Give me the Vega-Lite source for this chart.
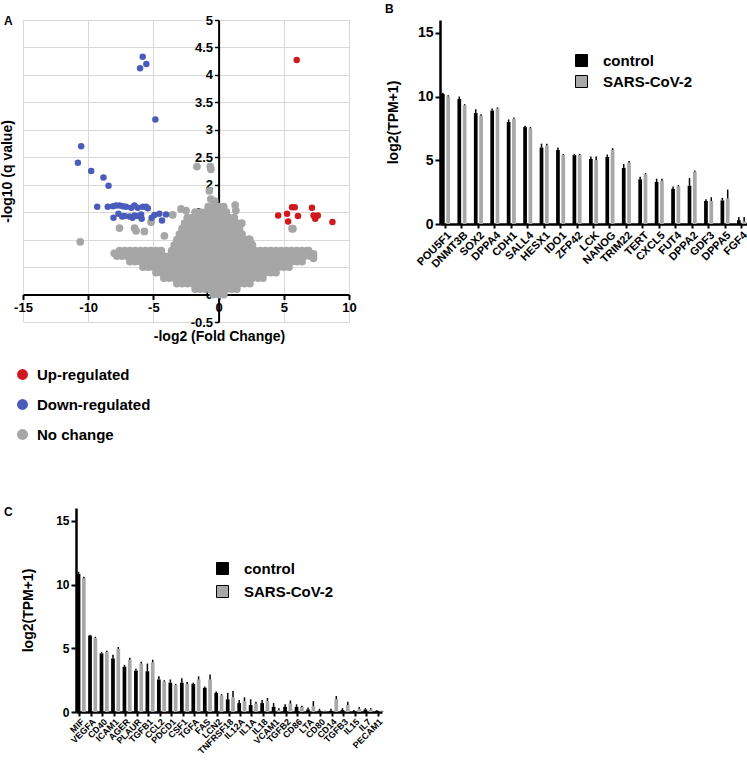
{
"$schema": "https://vega.github.io/schema/vega-lite/v6.json",
"padding": {"left": 0, "top": 3, "right": 0, "bottom": 0},
"background": "white",
"config": {
  "font": "Liberation Sans",
  "view": {"stroke": null},
  "axis": {"labelFontWeight": "bold", "titleFontWeight": "bold", "labelColor": "black", "titleColor": "black", "domainColor": "black", "tickColor": "black"},
  "title": {"fontWeight": "bold", "fontSize": 12, "anchor": "start", "frame": "group", "color": "black"},
  "legend": {"labelFontWeight": "bold", "labelColor": "black"}
},
"datasets": {
  "gray": [
    {"x":-0.4,"y":0},{"x":0,"y":0},{"x":0.4,"y":0},
    {"x":-1.8,"y":0.1},{"x":-1.4,"y":0.1},{"x":-1.0,"y":0.1},{"x":-0.6,"y":0.1},{"x":-0.2,"y":0.1},{"x":0.2,"y":0.1},{"x":0.6,"y":0.1},{"x":1.0,"y":0.1},{"x":1.4,"y":0.1},
    {"x":-3.2,"y":0.2},{"x":-2.8,"y":0.2},{"x":-2.4,"y":0.2},{"x":-2.0,"y":0.2},{"x":-1.6,"y":0.2},{"x":-1.2,"y":0.2},{"x":-0.8,"y":0.2},{"x":-0.4,"y":0.2},{"x":0,"y":0.2},{"x":0.4,"y":0.2},{"x":0.8,"y":0.2},{"x":1.2,"y":0.2},{"x":1.6,"y":0.2},{"x":2.0,"y":0.2},{"x":2.4,"y":0.2},
    {"x":-4.2,"y":0.3},{"x":-3.8,"y":0.3},{"x":-3.4,"y":0.3},{"x":-3.0,"y":0.3},{"x":-2.6,"y":0.3},{"x":-2.2,"y":0.3},{"x":-1.8,"y":0.3},{"x":-1.4,"y":0.3},{"x":-1.0,"y":0.3},{"x":-0.6,"y":0.3},{"x":-0.2,"y":0.3},{"x":0.2,"y":0.3},{"x":0.6,"y":0.3},{"x":1.0,"y":0.3},{"x":1.4,"y":0.3},{"x":1.8,"y":0.3},{"x":2.2,"y":0.3},{"x":2.6,"y":0.3},{"x":3.0,"y":0.3},{"x":3.4,"y":0.3},
    {"x":-4.8,"y":0.4},{"x":-4.4,"y":0.4},{"x":-4.0,"y":0.4},{"x":-3.6,"y":0.4},{"x":-3.2,"y":0.4},{"x":-2.8,"y":0.4},{"x":-2.4,"y":0.4},{"x":-2.0,"y":0.4},{"x":-1.6,"y":0.4},{"x":-1.2,"y":0.4},{"x":-0.8,"y":0.4},{"x":-0.4,"y":0.4},{"x":0,"y":0.4},{"x":0.4,"y":0.4},{"x":0.8,"y":0.4},{"x":1.2,"y":0.4},{"x":1.6,"y":0.4},{"x":2.0,"y":0.4},{"x":2.4,"y":0.4},{"x":2.8,"y":0.4},{"x":3.2,"y":0.4},{"x":3.6,"y":0.4},{"x":4.0,"y":0.4},{"x":4.4,"y":0.4},
    {"x":-5.8,"y":0.5},{"x":-5.4,"y":0.5},{"x":-5.0,"y":0.5},{"x":-4.6,"y":0.5},{"x":-4.2,"y":0.5},{"x":-3.8,"y":0.5},{"x":-3.4,"y":0.5},{"x":-3.0,"y":0.5},{"x":-2.6,"y":0.5},{"x":-2.2,"y":0.5},{"x":-1.8,"y":0.5},{"x":-1.4,"y":0.5},{"x":-1.0,"y":0.5},{"x":-0.6,"y":0.5},{"x":-0.2,"y":0.5},{"x":0.2,"y":0.5},{"x":0.6,"y":0.5},{"x":1.0,"y":0.5},{"x":1.4,"y":0.5},{"x":1.8,"y":0.5},{"x":2.2,"y":0.5},{"x":2.6,"y":0.5},{"x":3.0,"y":0.5},{"x":3.4,"y":0.5},{"x":3.8,"y":0.5},{"x":4.2,"y":0.5},{"x":4.6,"y":0.5},{"x":5.0,"y":0.5},{"x":5.4,"y":0.5},
    {"x":-6.8,"y":0.6},{"x":-6.4,"y":0.6},{"x":-6.0,"y":0.6},{"x":-5.6,"y":0.6},{"x":-5.2,"y":0.6},{"x":-4.8,"y":0.6},{"x":-4.4,"y":0.6},{"x":-4.0,"y":0.6},{"x":-3.6,"y":0.6},{"x":-3.2,"y":0.6},{"x":-2.8,"y":0.6},{"x":-2.4,"y":0.6},{"x":-2.0,"y":0.6},{"x":-1.6,"y":0.6},{"x":-1.2,"y":0.6},{"x":-0.8,"y":0.6},{"x":-0.4,"y":0.6},{"x":0,"y":0.6},{"x":0.4,"y":0.6},{"x":0.8,"y":0.6},{"x":1.2,"y":0.6},{"x":1.6,"y":0.6},{"x":2.0,"y":0.6},{"x":2.4,"y":0.6},{"x":2.8,"y":0.6},{"x":3.2,"y":0.6},{"x":3.6,"y":0.6},{"x":4.0,"y":0.6},{"x":4.4,"y":0.6},{"x":4.8,"y":0.6},{"x":5.2,"y":0.6},{"x":5.6,"y":0.6},{"x":6.0,"y":0.6},{"x":6.4,"y":0.6},
    {"x":-7.8,"y":0.7},{"x":-7.4,"y":0.7},{"x":-7.0,"y":0.7},{"x":-6.6,"y":0.7},{"x":-6.2,"y":0.7},{"x":-5.8,"y":0.7},{"x":-5.4,"y":0.7},{"x":-5.0,"y":0.7},{"x":-4.6,"y":0.7},{"x":-4.2,"y":0.7},{"x":-3.8,"y":0.7},{"x":-3.4,"y":0.7},{"x":-3.0,"y":0.7},{"x":-2.6,"y":0.7},{"x":-2.2,"y":0.7},{"x":-1.8,"y":0.7},{"x":-1.4,"y":0.7},{"x":-1.0,"y":0.7},{"x":-0.6,"y":0.7},{"x":-0.2,"y":0.7},{"x":0.2,"y":0.7},{"x":0.6,"y":0.7},{"x":1.0,"y":0.7},{"x":1.4,"y":0.7},{"x":1.8,"y":0.7},{"x":2.2,"y":0.7},{"x":2.6,"y":0.7},{"x":3.0,"y":0.7},{"x":3.4,"y":0.7},{"x":3.8,"y":0.7},{"x":4.2,"y":0.7},{"x":4.6,"y":0.7},{"x":5.0,"y":0.7},{"x":5.4,"y":0.7},{"x":5.8,"y":0.7},{"x":6.2,"y":0.7},{"x":6.6,"y":0.7},{"x":7.0,"y":0.7},
    {"x":-7.6,"y":0.8},{"x":-7.2,"y":0.8},{"x":-6.8,"y":0.8},{"x":-6.4,"y":0.8},{"x":-6.0,"y":0.8},{"x":-5.6,"y":0.8},{"x":-5.2,"y":0.8},{"x":-4.8,"y":0.8},{"x":-4.4,"y":0.8},{"x":-3.6,"y":0.8},{"x":-3.2,"y":0.8},{"x":-2.8,"y":0.8},{"x":-2.4,"y":0.8},{"x":-2.0,"y":0.8},{"x":-1.6,"y":0.8},{"x":-1.2,"y":0.8},{"x":-0.8,"y":0.8},{"x":-0.4,"y":0.8},{"x":0,"y":0.8},{"x":0.4,"y":0.8},{"x":0.8,"y":0.8},{"x":1.2,"y":0.8},{"x":1.6,"y":0.8},{"x":2.0,"y":0.8},{"x":2.4,"y":0.8},{"x":2.8,"y":0.8},{"x":3.2,"y":0.8},{"x":3.6,"y":0.8},{"x":4.0,"y":0.8},{"x":4.4,"y":0.8},{"x":4.8,"y":0.8},{"x":5.2,"y":0.8},{"x":5.6,"y":0.8},{"x":6.0,"y":0.8},{"x":6.4,"y":0.8},{"x":6.8,"y":0.8},
    {"x":-3.4,"y":0.9},{"x":-3.0,"y":0.9},{"x":-2.6,"y":0.9},{"x":-2.2,"y":0.9},{"x":-1.8,"y":0.9},{"x":-1.4,"y":0.9},{"x":-1.0,"y":0.9},{"x":-0.6,"y":0.9},{"x":-0.2,"y":0.9},{"x":0.2,"y":0.9},{"x":0.6,"y":0.9},{"x":1.0,"y":0.9},{"x":1.4,"y":0.9},{"x":1.8,"y":0.9},{"x":2.2,"y":0.9},{"x":2.6,"y":0.9},
    {"x":-3.2,"y":1.0},{"x":-2.8,"y":1.0},{"x":-2.4,"y":1.0},{"x":-2.0,"y":1.0},{"x":-1.6,"y":1.0},{"x":-1.2,"y":1.0},{"x":-0.8,"y":1.0},{"x":-0.4,"y":1.0},{"x":0,"y":1.0},{"x":0.4,"y":1.0},{"x":0.8,"y":1.0},{"x":1.2,"y":1.0},{"x":1.6,"y":1.0},{"x":2.0,"y":1.0},{"x":2.4,"y":1.0},
    {"x":-3.0,"y":1.1},{"x":-2.6,"y":1.1},{"x":-2.2,"y":1.1},{"x":-1.8,"y":1.1},{"x":-1.4,"y":1.1},{"x":-1.0,"y":1.1},{"x":-0.6,"y":1.1},{"x":-0.2,"y":1.1},{"x":0.2,"y":1.1},{"x":0.6,"y":1.1},{"x":1.0,"y":1.1},{"x":1.4,"y":1.1},{"x":1.8,"y":1.1},
    {"x":-2.8,"y":1.2},{"x":-2.4,"y":1.2},{"x":-2.0,"y":1.2},{"x":-1.6,"y":1.2},{"x":-1.2,"y":1.2},{"x":-0.8,"y":1.2},{"x":-0.4,"y":1.2},{"x":0,"y":1.2},{"x":0.4,"y":1.2},{"x":0.8,"y":1.2},{"x":1.2,"y":1.2},{"x":1.6,"y":1.2},
    {"x":-2.6,"y":1.3},{"x":-2.2,"y":1.3},{"x":-1.8,"y":1.3},{"x":-1.4,"y":1.3},{"x":-1.0,"y":1.3},{"x":-0.6,"y":1.3},{"x":-0.2,"y":1.3},{"x":0.2,"y":1.3},{"x":0.6,"y":1.3},{"x":1.0,"y":1.3},{"x":1.4,"y":1.3},
    {"x":-2.4,"y":1.4},{"x":-2.0,"y":1.4},{"x":-1.6,"y":1.4},{"x":-1.2,"y":1.4},{"x":-0.8,"y":1.4},{"x":-0.4,"y":1.4},{"x":0,"y":1.4},{"x":0.4,"y":1.4},{"x":0.8,"y":1.4},{"x":1.2,"y":1.4},
    {"x":-1.8,"y":1.5},{"x":-1.4,"y":1.5},{"x":-1.0,"y":1.5},{"x":-0.6,"y":1.5},{"x":-0.2,"y":1.5},{"x":0.2,"y":1.5},{"x":0.6,"y":1.5},
    {"x":-0.8,"y":1.6},{"x":-0.4,"y":1.6},{"x":0,"y":1.6},{"x":0.4,"y":1.6},
    {"x":-0.3,"y":1.7},
    {"x":-10.61,"y":0.96},{"x":-7.6,"y":1.21},{"x":-6.45,"y":1.21},{"x":-6.33,"y":1.16},{"x":-5.69,"y":1.15},{"x":-5.18,"y":1.32},{"x":-4.16,"y":1.07},{"x":-3.52,"y":1.45},{"x":-2.88,"y":1.56},{"x":-2.5,"y":1.53},{"x":-1.66,"y":2.33},{"x":-0.64,"y":2.33},{"x":-0.59,"y":2.28},{"x":-0.71,"y":1.89},{"x":-0.6,"y":1.74},{"x":1.27,"y":1.63},{"x":1.32,"y":1.53},{"x":1.78,"y":1.3},{"x":2.34,"y":1.01},{"x":2.54,"y":0.92},{"x":5.63,"y":1.2},{"x":5.7,"y":1.2},{"x":7.28,"y":0.74},{"x":7.28,"y":0.66},{"x":6.9,"y":0.8},{"x":-8.0,"y":0.75}
  ],
  "blue": [
    {"x":-5.82,"y":4.33},{"x":-5.54,"y":4.2},{"x":-6.02,"y":4.12},{"x":-4.85,"y":3.19},{"x":-10.54,"y":2.7},{"x":-10.79,"y":2.4},{"x":-9.77,"y":2.25},{"x":-8.83,"y":2.13},{"x":-8.44,"y":1.98},{"x":-9.31,"y":1.6},
    {"x":-8.5,"y":1.6},{"x":-8.1,"y":1.61},{"x":-7.86,"y":1.62},{"x":-7.6,"y":1.62},{"x":-7.35,"y":1.61},{"x":-7.1,"y":1.6},{"x":-6.7,"y":1.58},{"x":-6.45,"y":1.62},{"x":-6.2,"y":1.58},{"x":-5.8,"y":1.6},{"x":-5.56,"y":1.6},{"x":-5.43,"y":1.57},
    {"x":-8.06,"y":1.4},{"x":-7.68,"y":1.47},{"x":-7.4,"y":1.42},{"x":-7.22,"y":1.43},{"x":-6.84,"y":1.42},{"x":-6.6,"y":1.4},{"x":-6.45,"y":1.44},{"x":-6.2,"y":1.43},{"x":-5.94,"y":1.46},{"x":-5.9,"y":1.38},{"x":-5.13,"y":1.4},{"x":-4.92,"y":1.45},{"x":-4.54,"y":1.47},{"x":-4.34,"y":1.35},{"x":-4.03,"y":1.46}
  ],
  "red": [
    {"x":5.99,"y":4.27},{"x":4.57,"y":1.44},{"x":5.25,"y":1.47},{"x":5.33,"y":1.33},{"x":5.63,"y":1.59},{"x":5.84,"y":1.59},{"x":6.09,"y":1.43},{"x":7.16,"y":1.58},{"x":7.28,"y":1.44},{"x":7.41,"y":1.38},{"x":7.61,"y":1.44},{"x":8.73,"y":1.32}
  ],
  "pluri": [
    {"gene":"POU5F1","grp":"control","v":10.2,"e":10.3},{"gene":"POU5F1","grp":"SARS-CoV-2","v":10.0,"e":10.1},
    {"gene":"DNMT3B","grp":"control","v":9.8,"e":10.0},{"gene":"DNMT3B","grp":"SARS-CoV-2","v":9.3,"e":9.4},
    {"gene":"SOX2","grp":"control","v":8.7,"e":9.0},{"gene":"SOX2","grp":"SARS-CoV-2","v":8.5,"e":8.6},
    {"gene":"DPPA4","grp":"control","v":8.9,"e":9.05},{"gene":"DPPA4","grp":"SARS-CoV-2","v":9.05,"e":9.15},
    {"gene":"CDH1","grp":"control","v":8.0,"e":8.2},{"gene":"CDH1","grp":"SARS-CoV-2","v":8.25,"e":8.35},
    {"gene":"SALL4","grp":"control","v":7.6,"e":7.7},{"gene":"SALL4","grp":"SARS-CoV-2","v":7.5,"e":7.6},
    {"gene":"HESX1","grp":"control","v":6.0,"e":6.3},{"gene":"HESX1","grp":"SARS-CoV-2","v":6.15,"e":6.3},
    {"gene":"IDO1","grp":"control","v":5.8,"e":6.0},{"gene":"IDO1","grp":"SARS-CoV-2","v":5.4,"e":5.5},
    {"gene":"ZFP42","grp":"control","v":5.4,"e":5.5},{"gene":"ZFP42","grp":"SARS-CoV-2","v":5.4,"e":5.5},
    {"gene":"LCK","grp":"control","v":5.1,"e":5.3},{"gene":"LCK","grp":"SARS-CoV-2","v":5.0,"e":5.3},
    {"gene":"NANOG","grp":"control","v":5.25,"e":5.45},{"gene":"NANOG","grp":"SARS-CoV-2","v":5.8,"e":5.95},
    {"gene":"TRIM22","grp":"control","v":4.4,"e":4.7},{"gene":"TRIM22","grp":"SARS-CoV-2","v":4.8,"e":4.95},
    {"gene":"TERT","grp":"control","v":3.5,"e":3.7},{"gene":"TERT","grp":"SARS-CoV-2","v":3.9,"e":4.0},
    {"gene":"CXCL5","grp":"control","v":3.3,"e":3.55},{"gene":"CXCL5","grp":"SARS-CoV-2","v":3.4,"e":3.55},
    {"gene":"FUT4","grp":"control","v":2.75,"e":2.95},{"gene":"FUT4","grp":"SARS-CoV-2","v":2.95,"e":3.05},
    {"gene":"DPPA2","grp":"control","v":3.0,"e":3.6},{"gene":"DPPA2","grp":"SARS-CoV-2","v":4.1,"e":4.2},
    {"gene":"GDF3","grp":"control","v":1.8,"e":1.95},{"gene":"GDF3","grp":"SARS-CoV-2","v":1.8,"e":2.1},
    {"gene":"DPPA5","grp":"control","v":1.85,"e":2.05},{"gene":"DPPA5","grp":"SARS-CoV-2","v":2.0,"e":2.7},
    {"gene":"FGF4","grp":"control","v":0.3,"e":0.55},{"gene":"FGF4","grp":"SARS-CoV-2","v":0.2,"e":0.55}
  ],
  "immune": [
    {"gene":"MIF","grp":"control","v":10.85,"e":11.0},{"gene":"MIF","grp":"SARS-CoV-2","v":10.5,"e":10.6},
    {"gene":"VEGFA","grp":"control","v":6.0,"e":6.05},{"gene":"VEGFA","grp":"SARS-CoV-2","v":5.8,"e":5.9},
    {"gene":"CD40","grp":"control","v":4.6,"e":4.7},{"gene":"CD40","grp":"SARS-CoV-2","v":4.7,"e":4.8},
    {"gene":"ICAM1","grp":"control","v":4.2,"e":4.5},{"gene":"ICAM1","grp":"SARS-CoV-2","v":4.95,"e":5.1},
    {"gene":"AGER","grp":"control","v":3.55,"e":3.7},{"gene":"AGER","grp":"SARS-CoV-2","v":4.1,"e":4.25},
    {"gene":"PLAUR","grp":"control","v":3.25,"e":3.4},{"gene":"PLAUR","grp":"SARS-CoV-2","v":3.8,"e":3.95},
    {"gene":"TGFB1","grp":"control","v":3.2,"e":3.8},{"gene":"TGFB1","grp":"SARS-CoV-2","v":3.9,"e":4.1},
    {"gene":"CCL2","grp":"control","v":2.55,"e":2.8},{"gene":"CCL2","grp":"SARS-CoV-2","v":2.4,"e":2.5},
    {"gene":"PDCD1","grp":"control","v":2.3,"e":2.55},{"gene":"PDCD1","grp":"SARS-CoV-2","v":2.1,"e":2.2},
    {"gene":"CSF1","grp":"control","v":2.3,"e":2.65},{"gene":"CSF1","grp":"SARS-CoV-2","v":2.2,"e":2.35},
    {"gene":"TGFA","grp":"control","v":2.2,"e":2.3},{"gene":"TGFA","grp":"SARS-CoV-2","v":2.55,"e":2.8},
    {"gene":"FAS","grp":"control","v":1.9,"e":2.0},{"gene":"FAS","grp":"SARS-CoV-2","v":2.55,"e":2.95},
    {"gene":"LCN2","grp":"control","v":1.5,"e":1.6},{"gene":"LCN2","grp":"SARS-CoV-2","v":1.3,"e":1.4},
    {"gene":"TNFRSF18","grp":"control","v":1.0,"e":1.5},{"gene":"TNFRSF18","grp":"SARS-CoV-2","v":1.15,"e":1.65},
    {"gene":"IL12A","grp":"control","v":0.7,"e":0.95},{"gene":"IL12A","grp":"SARS-CoV-2","v":0.85,"e":1.15},
    {"gene":"IL1A","grp":"control","v":0.55,"e":1.0},{"gene":"IL1A","grp":"SARS-CoV-2","v":0.65,"e":0.8},
    {"gene":"IL18","grp":"control","v":0.7,"e":0.95},{"gene":"IL18","grp":"SARS-CoV-2","v":0.85,"e":1.1},
    {"gene":"VCAM1","grp":"control","v":0.4,"e":0.7},{"gene":"VCAM1","grp":"SARS-CoV-2","v":0.15,"e":0.3},
    {"gene":"TGFB2","grp":"control","v":0.4,"e":0.6},{"gene":"TGFB2","grp":"SARS-CoV-2","v":0.65,"e":0.9},
    {"gene":"CD86","grp":"control","v":0.4,"e":0.6},{"gene":"CD86","grp":"SARS-CoV-2","v":0.4,"e":0.5},
    {"gene":"LTA","grp":"control","v":0.2,"e":0.35},{"gene":"LTA","grp":"SARS-CoV-2","v":0.45,"e":0.85},
    {"gene":"CD80","grp":"control","v":0.1,"e":0.25},{"gene":"CD80","grp":"SARS-CoV-2","v":0.05,"e":0.1},
    {"gene":"CD14","grp":"control","v":0.1,"e":0.25},{"gene":"CD14","grp":"SARS-CoV-2","v":1.0,"e":1.25},
    {"gene":"TGFB3","grp":"control","v":0.15,"e":0.3},{"gene":"TGFB3","grp":"SARS-CoV-2","v":0.55,"e":0.8},
    {"gene":"IL15","grp":"control","v":0.05,"e":0.15},{"gene":"IL15","grp":"SARS-CoV-2","v":0.25,"e":0.4},
    {"gene":"IL7","grp":"control","v":0.2,"e":0.3},{"gene":"IL7","grp":"SARS-CoV-2","v":0.2,"e":0.3},
    {"gene":"PECAM1","grp":"control","v":0.1,"e":0.15},{"gene":"PECAM1","grp":"SARS-CoV-2","v":0.05,"e":0.1}
  ]
},
"resolve": {"scale": {"color": "independent"}, "legend": {"color": "independent"}},
"columns": 2,
"align": "none",
"spacing": {"row": 63, "column": 0},
"concat": [
  {
    "title": {"text": "A", "dx": -19, "offset": -14},
    "width": 326,
    "height": 302,
    "encoding": {
      "x": {"field": "x", "type": "quantitative", "scale": {"domain": [-15, 10], "nice": false, "zero": false},
        "axis": {"values": [-15, -10, -5, 0, 5, 10], "offset": -27.5, "grid": true, "gridColor": "#d9d9d9", "domainWidth": 2, "tickWidth": 2, "tickSize": 5, "labelFontSize": 13, "labelFlush": false, "labelPadding": 2, "labelExpr": "datum.value < 0 ? '-' + format(-datum.value, '~g') : format(datum.value, '~g')", "title": "-log2 (Fold Change)", "titleFontSize": 14, "titleX": 196, "titlePadding": 15}},
      "y": {"field": "y", "type": "quantitative", "scale": {"domain": [-0.5, 5], "nice": false, "zero": false},
        "axis": {"values": [-0.5, 0, 0.5, 1, 1.5, 2, 2.5, 3, 3.5, 4, 4.5, 5], "offset": -195.6, "grid": true, "gridColor": "#d9d9d9", "domainWidth": 2, "tickWidth": 1.5, "tickSize": 4, "labelFontSize": 13, "labelPadding": 2, "labelExpr": "datum.value < 0 ? '-' + format(-datum.value, '~g') : format(datum.value, '~g')", "title": "-log10 (q value)", "titleFontSize": 14, "titlePadding": 176}}
    },
    "layer": [
      {"data": {"name": "gray"}, "mark": {"type": "circle", "size": 60, "opacity": 1},
       "encoding": {"color": {"datum": "No change", "type": "nominal",
         "scale": {"domain": ["Up-regulated", "Down-regulated", "No change"], "range": ["#d0191f", "#4a5cbb", "#a6a6a6"]},
         "legend": {"orient": "none", "legendX": -8, "legendY": 347, "title": null, "symbolType": "circle", "symbolSize": 120, "labelFontSize": 15, "rowPadding": 14, "labelOffset": 7, "symbolStrokeWidth": 0}}}},
      {"data": {"name": "blue"}, "mark": {"type": "circle", "size": 42, "opacity": 1},
       "encoding": {"color": {"datum": "Down-regulated", "type": "nominal"}}},
      {"data": {"name": "red"}, "mark": {"type": "circle", "size": 42, "opacity": 1},
       "encoding": {"color": {"datum": "Up-regulated", "type": "nominal"}}}
    ]
  },
  {
    "title": {"text": "B", "dx": -55, "offset": 4},
    "width": 307,
    "height": 204,
    "data": {"name": "pluri"},
    "encoding": {
      "x": {"field": "gene", "type": "nominal", "sort": null, "scale": {"paddingInner": 0.45, "paddingOuter": 0.06},
        "axis": {"title": null, "labelAngle": -45, "labelFontSize": 11, "domainWidth": 2.5, "tickWidth": 2, "tickSize": 4, "labelPadding": 1}},
      "xOffset": {"field": "grp", "type": "nominal", "sort": ["control", "SARS-CoV-2"], "scale": {"paddingInner": 0.3}}
    },
    "layer": [
      {"mark": {"type": "bar"},
       "encoding": {
         "y": {"field": "v", "type": "quantitative", "scale": {"domain": [0, 15]},
           "axis": {"values": [0, 5, 10, 15], "grid": false, "domainWidth": 2.5, "tickWidth": 2, "tickSize": 5, "labelFontSize": 14, "labelPadding": 2, "title": "log2(TPM+1)", "titleFontSize": 14, "titlePadding": 17}},
         "color": {"field": "grp", "type": "nominal", "sort": ["control", "SARS-CoV-2"],
           "scale": {"domain": ["control", "SARS-CoV-2"], "range": ["#000000", "#a8a8a8"]},
           "legend": {"orient": "none", "legendX": 134, "legendY": 33, "title": null, "symbolType": "square", "symbolSize": 144, "labelFontSize": 15, "rowPadding": 4, "labelOffset": 14, "symbolStrokeColor": "black", "symbolStrokeWidth": 1}}
       }},
      {"mark": {"type": "rule", "color": "black", "strokeWidth": 1.5},
       "encoding": {"y": {"field": "v", "type": "quantitative"}, "y2": {"field": "e"}}}
    ]
  },
  {
    "title": {"text": "C", "dx": -19, "offset": -11},
    "width": 359,
    "height": 204,
    "data": {"name": "immune"},
    "encoding": {
      "x": {"field": "gene", "type": "nominal", "sort": null, "scale": {"range": [53, 359], "paddingInner": 0.45, "paddingOuter": 0.06},
        "axis": {"title": null, "labelAngle": -45, "labelFontSize": 9, "domainWidth": 2.5, "tickWidth": 2, "tickSize": 4, "labelPadding": 1}},
      "xOffset": {"field": "grp", "type": "nominal", "sort": ["control", "SARS-CoV-2"], "scale": {"paddingInner": 0.3}}
    },
    "layer": [
      {"mark": {"type": "bar"},
       "encoding": {
         "y": {"field": "v", "type": "quantitative", "scale": {"domain": [0, 15]},
           "axis": {"values": [0, 5, 10, 15], "offset": -53, "grid": false, "domainWidth": 2.5, "tickWidth": 2, "tickSize": 5, "labelFontSize": 12, "labelPadding": 2, "title": "log2(TPM+1)", "titleFontSize": 14, "titlePadding": 20}},
         "color": {"field": "grp", "type": "nominal", "sort": ["control", "SARS-CoV-2"],
           "scale": {"domain": ["control", "SARS-CoV-2"], "range": ["#000000", "#a8a8a8"]},
           "legend": {"orient": "none", "legendX": 192, "legendY": 53, "title": null, "symbolType": "square", "symbolSize": 144, "labelFontSize": 15, "rowPadding": 6, "labelOffset": 14, "symbolStrokeColor": "black", "symbolStrokeWidth": 1}}
       }},
      {"mark": {"type": "rule", "color": "black", "strokeWidth": 1.5},
       "encoding": {"y": {"field": "v", "type": "quantitative"}, "y2": {"field": "e"}}}
    ]
  }
]
}
